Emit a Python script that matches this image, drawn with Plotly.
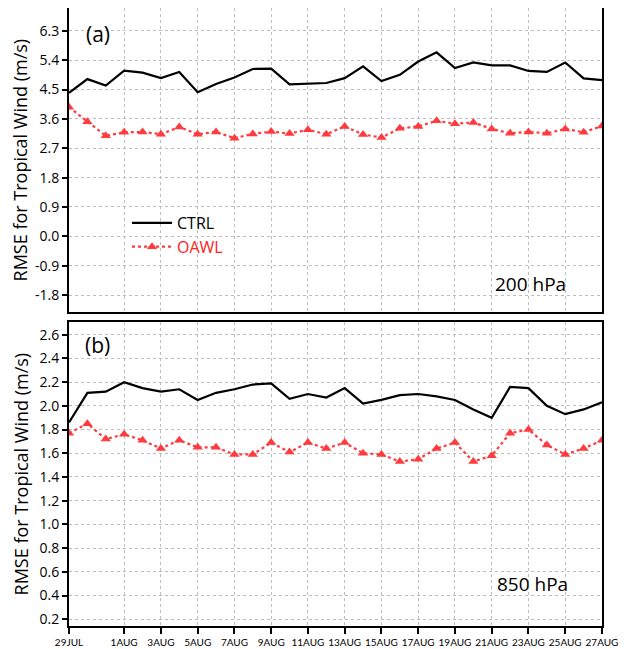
import plotly.graph_objects as go

days = list(range(30))
tick_idx = [0, 3, 5, 7, 9, 11, 13, 15, 17, 19, 21, 23, 25, 27, 29]
tick_text = ["29JUL", "1AUG", "3AUG", "5AUG", "7AUG", "9AUG", "11AUG", "13AUG",
             "15AUG", "17AUG", "19AUG", "21AUG", "23AUG", "25AUG", "27AUG"]

ctrl_200 = [4.40, 4.82, 4.62, 5.08, 5.02, 4.85, 5.04, 4.42, 4.67, 4.87,
            5.13, 5.14, 4.66, 4.69, 4.70, 4.85, 5.21, 4.76, 4.95, 5.36,
            5.64, 5.16, 5.33, 5.24, 5.24, 5.07, 5.04, 5.33, 4.84, 4.79]
oawl_200 = [3.96, 3.51, 3.08, 3.19, 3.20, 3.13, 3.35, 3.13, 3.20, 3.01,
            3.14, 3.21, 3.15, 3.27, 3.13, 3.37, 3.12, 3.03, 3.31, 3.37,
            3.54, 3.45, 3.49, 3.29, 3.16, 3.20, 3.16, 3.29, 3.19, 3.38]
ctrl_850 = [1.86, 2.11, 2.12, 2.20, 2.15, 2.12, 2.14, 2.05, 2.11, 2.14,
            2.18, 2.19, 2.06, 2.10, 2.07, 2.15, 2.02, 2.05, 2.09, 2.10,
            2.08, 2.05, 1.97, 1.90, 2.16, 2.15, 2.00, 1.93, 1.97, 2.03]
oawl_850 = [1.77, 1.85, 1.72, 1.76, 1.71, 1.64, 1.71, 1.65, 1.65, 1.59,
            1.59, 1.69, 1.61, 1.69, 1.64, 1.69, 1.60, 1.59, 1.53, 1.55,
            1.64, 1.69, 1.53, 1.58, 1.77, 1.80, 1.67, 1.59, 1.64, 1.71]

yticks_top = [-1.8, -0.9, 0.0, 0.9, 1.8, 2.7, 3.6, 4.5, 5.4, 6.3]
yticks_bot = [0.2, 0.4, 0.6, 0.8, 1.0, 1.2, 1.4, 1.6, 1.8, 2.0, 2.2, 2.4, 2.6]

RED = "#FF3B3F"
FONT = "Open Sans"

fig = go.Figure()
fig.add_trace(go.Scatter(x=days, y=ctrl_200, mode="lines", name="CTRL",
                         line=dict(color="black", width=2.2),
                         xaxis="x", yaxis="y"))
fig.add_trace(go.Scatter(x=days, y=oawl_200, mode="lines+markers",
                         name="<span style='color:#FF2020'>OAWL</span>",
                         line=dict(color=RED, width=2.2, dash="dot"),
                         marker=dict(symbol="triangle-up", size=9, color=RED),
                         xaxis="x", yaxis="y"))
fig.add_trace(go.Scatter(x=days, y=ctrl_850, mode="lines", showlegend=False,
                         line=dict(color="black", width=2.2),
                         xaxis="x2", yaxis="y2"))
fig.add_trace(go.Scatter(x=days, y=oawl_850, mode="lines+markers", showlegend=False,
                         line=dict(color=RED, width=2.2, dash="dot"),
                         marker=dict(symbol="triangle-up", size=9, color=RED),
                         xaxis="x2", yaxis="y2"))

grid = dict(showgrid=True, gridcolor="#bdbdbd", griddash="dot", gridwidth=1)
axline = dict(showline=True, linecolor="black", linewidth=2, mirror=True,
              zeroline=False, automargin=False)

# page body has an 8px margin, so the figure is drawn 8px smaller and offset
W, H = 620, 641
ML, MR, MT, MB = 61, 26, 0, 23
ph = H - MT - MB  # 618
fig.update_layout(
    width=W, height=H,
    margin=dict(l=ML, r=MR, t=MT, b=MB, autoexpand=False),
    paper_bgcolor="white", plot_bgcolor="white",
    font=dict(family=FONT, color="black"),
    showlegend=True,
    legend=dict(x=(127 - 69) / 533, y=(626 - 206) / ph, xanchor="left", yanchor="top",
                bgcolor="rgba(0,0,0,0)", font=dict(size=16, family=FONT),
                tracegroupgap=0, itemwidth=40),
    xaxis=dict(domain=[0, 1], range=[0, 29], anchor="y", tickvals=tick_idx,
               ticktext=tick_text, showticklabels=False, ticks="", **grid, **axline),
    yaxis=dict(domain=[(626 - 312.3) / ph, 1], range=[-2.33, 7.0], anchor="x",
               tickvals=yticks_top, ticktext=[f"{v:.1f}" for v in yticks_top],
               ticks="outside", ticklen=5, tickwidth=1.5, tickcolor="black",
               tickfont=dict(size=14), **grid, **axline,
               title=dict(text="RMSE for Tropical Wind (m/s)", font=dict(size=18), standoff=6)),
    xaxis2=dict(domain=[0, 1], range=[0, 29], anchor="y2", tickvals=tick_idx,
                ticktext=tick_text, ticks="outside", ticklen=6, tickwidth=1.5,
                tickcolor="black", tickfont=dict(size=10, family="Lato"), tickangle=0,
                **grid, **axline),
    yaxis2=dict(domain=[0, (626 - 322.3) / ph], range=[0.143, 2.705], anchor="x2",
                tickvals=yticks_bot, ticktext=[f"{v:.1f}" for v in yticks_bot],
                ticks="outside", ticklen=5, tickwidth=1.5, tickcolor="black",
                tickfont=dict(size=14), **grid, **axline,
                title=dict(text="RMSE for Tropical Wind (m/s)", font=dict(size=18), standoff=6)),
    annotations=[
        dict(text="(a)", x=0.0545, y=6.21, xref="x domain", yref="y", showarrow=False,
             xanchor="center", yanchor="middle", font=dict(size=21)),
        dict(text="(b)", x=0.053, y=2.51, xref="x2 domain", yref="y2", showarrow=False,
             xanchor="center", yanchor="middle", font=dict(size=21)),
        dict(text="200 hPa", x=0.866, y=-1.46, xref="x domain", yref="y", showarrow=False,
             xanchor="center", yanchor="middle", font=dict(size=19)),
        dict(text="850 hPa", x=0.87, y=0.5, xref="x2 domain", yref="y2", showarrow=False,
             xanchor="center", yanchor="middle", font=dict(size=19)),
    ],
)

fig.write_html("out.html")
